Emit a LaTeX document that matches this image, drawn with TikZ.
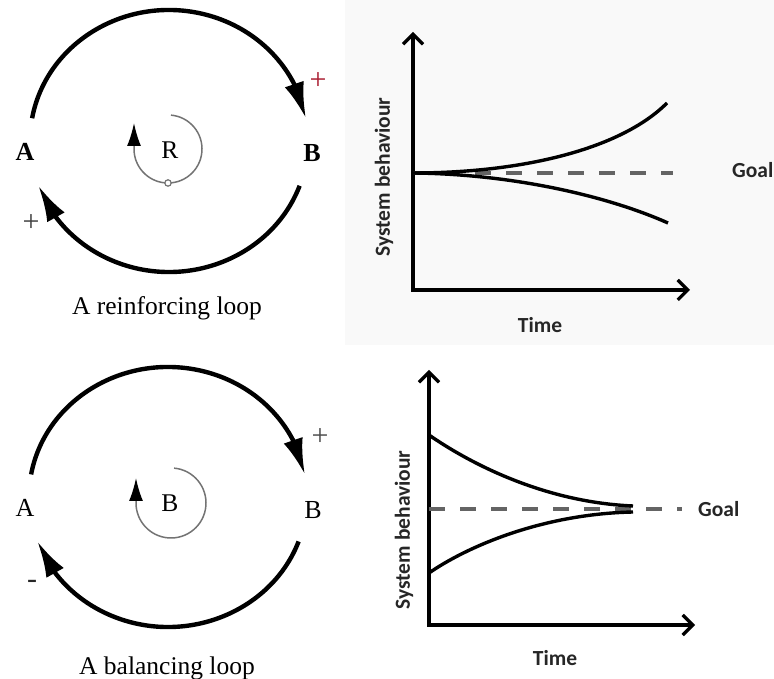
\documentclass[tikz,border=0pt]{standalone}
\usepackage{fontspec}
\setmainfont{Liberation Serif}
\newfontfamily\chartfont{Carlito}
\usetikzlibrary{arrows.meta,bending,calc}
\definecolor{plusred}{RGB}{170,30,50}
\definecolor{goalgray}{RGB}{100,100,100}
\begin{document}
\begin{tikzpicture}[x=1pt,y=1pt,
  bigarc/.style={line width=4.4pt,-{Latex[length=36pt,width=20pt]}},
  innerarc/.style={line width=1.5pt,draw=black!55,-{Latex[length=23pt,width=14pt,color=black]}},
  letter/.style={inner sep=0pt,font=\fontsize{26}{26}\selectfont},
  caption/.style={inner sep=0pt,font=\fontsize{25.5}{25.5}\selectfont},
  sign/.style={inner sep=0pt,font=\fontsize{30}{30}\selectfont},
  axisline/.style={line width=3.2pt,{Straight Barb[length=10pt,width=20pt]}-{Straight Barb[length=10pt,width=20pt]}},
  goalline/.style={line width=3.6pt,draw=goalgray,dash pattern=on 16pt off 15pt},
  curve/.style={line width=3.4pt},
  chart/.style={inner sep=0pt,font=\chartfont\bfseries\fontsize{21.5}{21.5}\selectfont,text=black!85}]
\useasboundingbox (0,0) rectangle (774,679);
\fill[black!2.5] (345,334) rectangle (774,679);

% ---------------- reinforcing loop ----------------
\coordinate (c1) at (169,538);
\node[letter] (A1) at (25,527) {\textbf{A}};
\node[letter] (B1) at (312,526) {\textbf{B}};
\coordinate (t1) at ($(c1)+(170:139 and 131)$);
\coordinate (b1) at ($(c1)+(-20:139 and 131)$);
\draw[bigarc] (t1) arc[start angle=170,end angle=10,x radius=139,y radius=131];
\draw[bigarc] (b1) arc[start angle=-20,end angle=-160,x radius=139,y radius=131];
\node[sign,text=plusred] (p1) at (318,598) {+};
\node[sign,text=black!75] (p2) at (31,456) {+};
\coordinate (ci1) at (168,530);
\draw[innerarc] ($(ci1)+(85:34)$) arc[start angle=85,end angle=-180,radius=34] -- ++(0,26);
\draw[draw=black!55,fill=white,line width=1.2pt] ($(ci1)+(0,-34)$) circle (3.2);
\node[caption] (R) at (170,529) {R};
\node[caption] (cap1) at (167,371) {A reinforcing loop};

% ---------------- balancing loop ----------------
\coordinate (c2) at (168,182);
\node[letter] (A2) at (25,171) {A};
\node[letter] (B2) at (313,169) {B};
\coordinate (t2) at ($(c2)+(170:139 and 130)$);
\coordinate (b2) at ($(c2)+(-20:139 and 130)$);
\draw[bigarc] (t2) arc[start angle=170,end angle=10,x radius=139,y radius=130];
\draw[bigarc] (b2) arc[start angle=-20,end angle=-160,x radius=139,y radius=130];
\node[sign,text=black!70] (p3) at (320,242) {+};
\node[sign,text=black!85] (m1) at (32,95) {-};
\coordinate (ci2) at (171,176);
\draw[innerarc] ($(ci2)+(85:35)$) arc[start angle=85,end angle=-180,radius=35] -- ++(0,25);
\node[caption] (Bi) at (170,176) {B};
\node[caption] (cap2) at (167,11) {A balancing loop};

% ---------------- top chart ----------------
\coordinate (o1) at (413,389);
\coordinate (y1) at (413,647);
\coordinate (x1) at (690,389);
\draw[axisline] (y1) -- (o1) -- (x1);
\coordinate (g1s) at (413,506);
\coordinate (g1e) at (673,506);
\draw[goalline] (g1s) -- (g1e);
\draw[curve] (g1s) .. controls (520,506) and (620,529) .. (667,576);
\draw[curve] (g1s) .. controls (510,505) and (605,484) .. (668,456);
\node[chart,rotate=90] (sb1) at (384,502) {System behaviour};
\node[chart] (t1l) at (540,354) {Time};
\node[chart,anchor=west] (gl1) at (732,509) {Goal};

% ---------------- bottom chart ----------------
\coordinate (o2) at (429,54);
\coordinate (y2) at (429,309);
\coordinate (x2) at (695,54);
\draw[axisline] (y2) -- (o2) -- (x2);
\coordinate (g2s) at (429,170);
\coordinate (g2e) at (682,170);
\draw[goalline] (g2s) -- (g2e);
\draw[curve] (429,244) .. controls (465,219) and (540,177) .. (633,173);
\draw[curve] (429,106) .. controls (465,131) and (540,165) .. (633,167);
\node[chart,rotate=90] (sb2) at (404,149) {System behaviour};
\node[chart] (t2l) at (555,21) {Time};
\node[chart,anchor=west] (gl2) at (698,170) {Goal};
\end{tikzpicture}
\end{document}
